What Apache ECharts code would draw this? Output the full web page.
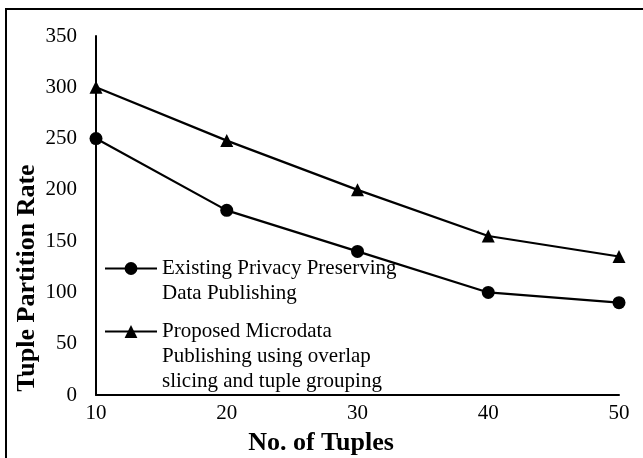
<!DOCTYPE html>
<html>
<head>
<meta charset="utf-8">
<script src="https://cdn.jsdelivr.net/npm/echarts@6/dist/echarts.min.js"></script>
<style>
  html, body { margin: 0; padding: 0; background: #fff; }
  #chart { width: 643px; height: 458px; }
</style>
</head>
<body>
<div id="chart"></div>
<script>
// Number of tuples on the x axis
var tupleCounts = ['10', '20', '30', '40', '50'];
// Tuple partition rate for each method
var existingRate = [250, 180, 140, 100, 90];
var proposedRate = [300, 248, 200, 155, 135];
// Series names as shown in the legend
var existingName = 'Existing Privacy Preserving\nData Publishing';
var proposedName = 'Proposed Microdata\nPublishing using overlap\nslicing and tuple grouping';

var serif = '"Liberation Serif", "Times New Roman", serif';

var chart = echarts.init(document.getElementById('chart'), null, { renderer: 'canvas' });

function legendFor(name, top, padLines) {
  return {
    data: [name],
    left: 104,
    top: top,
    orient: 'vertical',
    itemWidth: 52,
    itemHeight: 16,
    padding: 0,
    textStyle: { fontFamily: serif, fontSize: 21, color: '#000', lineHeight: 25 },
    // leading blank lines keep the icon level with the first text line
    formatter: function (n) { return new Array(padLines + 1).join('\n') + n; }
  };
}

chart.setOption({
  animation: false,
  backgroundColor: '#fff',
  grid: { left: 96, right: 24, top: 36, bottom: 63 },
  xAxis: {
    type: 'category',
    data: tupleCounts,
    boundaryGap: false,
    axisLine: { lineStyle: { color: '#000', width: 2 } },
    axisTick: { show: false },
    axisLabel: { fontFamily: serif, fontSize: 21, color: '#000', margin: 8 },
    splitLine: { show: false }
  },
  yAxis: {
    type: 'value',
    min: 0,
    max: 350,
    interval: 50,
    axisLine: { show: true, lineStyle: { color: '#000', width: 2 } },
    axisTick: { show: false },
    axisLabel: { fontFamily: serif, fontSize: 21, color: '#000', margin: 19 },
    splitLine: { show: false }
  },
  legend: [
    legendFor(existingName, 231, 1),
    legendFor(proposedName, 269, 2)
  ],
  series: [
    {
      name: existingName,
      type: 'line',
      data: existingRate,
      symbol: 'circle',
      symbolSize: 13,
      lineStyle: { color: '#000', width: 2.2 },
      itemStyle: { color: '#000' }
    },
    {
      name: proposedName,
      type: 'line',
      data: proposedRate,
      symbol: 'triangle',
      symbolSize: 13,
      lineStyle: { color: '#000', width: 2.2 },
      itemStyle: { color: '#000' }
    }
  ],
  graphic: [
    {
      type: 'rect',
      shape: { x: 6, y: 9, width: 700, height: 600 },
      style: { fill: 'none', stroke: '#000', lineWidth: 2 },
      silent: true
    },
    {
      type: 'text',
      x: 321,
      y: 443,
      style: {
        text: 'No. of Tuples',
        font: 'bold 26px ' + serif,
        fill: '#000',
        align: 'center',
        verticalAlign: 'middle'
      }
    },
    {
      type: 'text',
      x: 27,
      y: 278,
      rotation: Math.PI / 2,
      style: {
        text: 'Tuple Partition Rate',
        font: 'bold 26px ' + serif,
        fill: '#000',
        align: 'center',
        verticalAlign: 'middle'
      }
    }
  ]
});
</script>
</body>
</html>
